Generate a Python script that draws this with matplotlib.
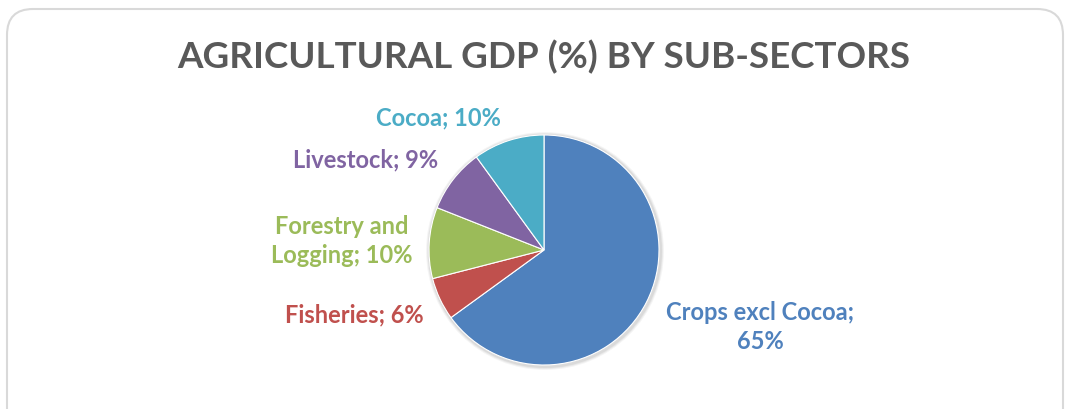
import matplotlib.pyplot as plt
from matplotlib.patches import FancyBboxPatch, Circle

# data
sectors = ['Crops excl Cocoa', 'Fisheries', 'Forestry and Logging', 'Livestock', 'Cocoa']
shares = [65, 6, 10, 9, 10]
colors = ['#4F81BD', '#C0504D', '#9BBB59', '#8064A2', '#4BACC6']
label_texts = ['Crops excl Cocoa;\n65%', 'Fisheries; 6%', 'Forestry and\nLogging; 10%',
               'Livestock; 9%', 'Cocoa; 10%']
# label centres in pixel coords (x, y from top)
label_pos = [(760, 327), (354, 315), (342, 241), (366, 160), (438, 118)]

W, H = 1068, 410
fig = plt.figure(figsize=(W / 100, H / 100), dpi=100)
ax = fig.add_axes([0, 0, 1, 1])
ax.set_xlim(0, W)
ax.set_ylim(0, H)
ax.axis('off')

# rounded frame
frame = FancyBboxPatch((7, -30), 1056, H - 10 + 30,
                       boxstyle='round,pad=0,rounding_size=26',
                       fc='white', ec='#D9D9D9', lw=1.5)
ax.add_patch(frame)

cx, cy, r = 544, H - 251, 115
# faint shadow
for k, a in [(4, 0.04), (3, 0.05), (2, 0.06)]:
    ax.add_patch(Circle((cx + 1, cy - 1), r + k, fc='black', ec='none', alpha=a))

ax.pie(shares, colors=colors, startangle=90, counterclock=False,
       center=(cx, cy), radius=r, frame=True,
       wedgeprops=dict(edgecolor='white', linewidth=0.8))
ax.set_xlim(0, W)
ax.set_ylim(0, H)
ax.set_aspect('equal')
ax.axis('off')

for txt, (x, y), c in zip(label_texts, label_pos, colors):
    ax.text(x, H - y, txt, ha='center', va='center', color=c,
            fontsize=17, fontweight='bold', family='Lato', linespacing=1.35)

ax.text(544, H - 57, 'AGRICULTURAL GDP (%) BY SUB-SECTORS', ha='center', va='center',
        color='#595959', fontsize=26.5, fontweight='bold', family='Lato')

fig.savefig('out.png', dpi=100)
